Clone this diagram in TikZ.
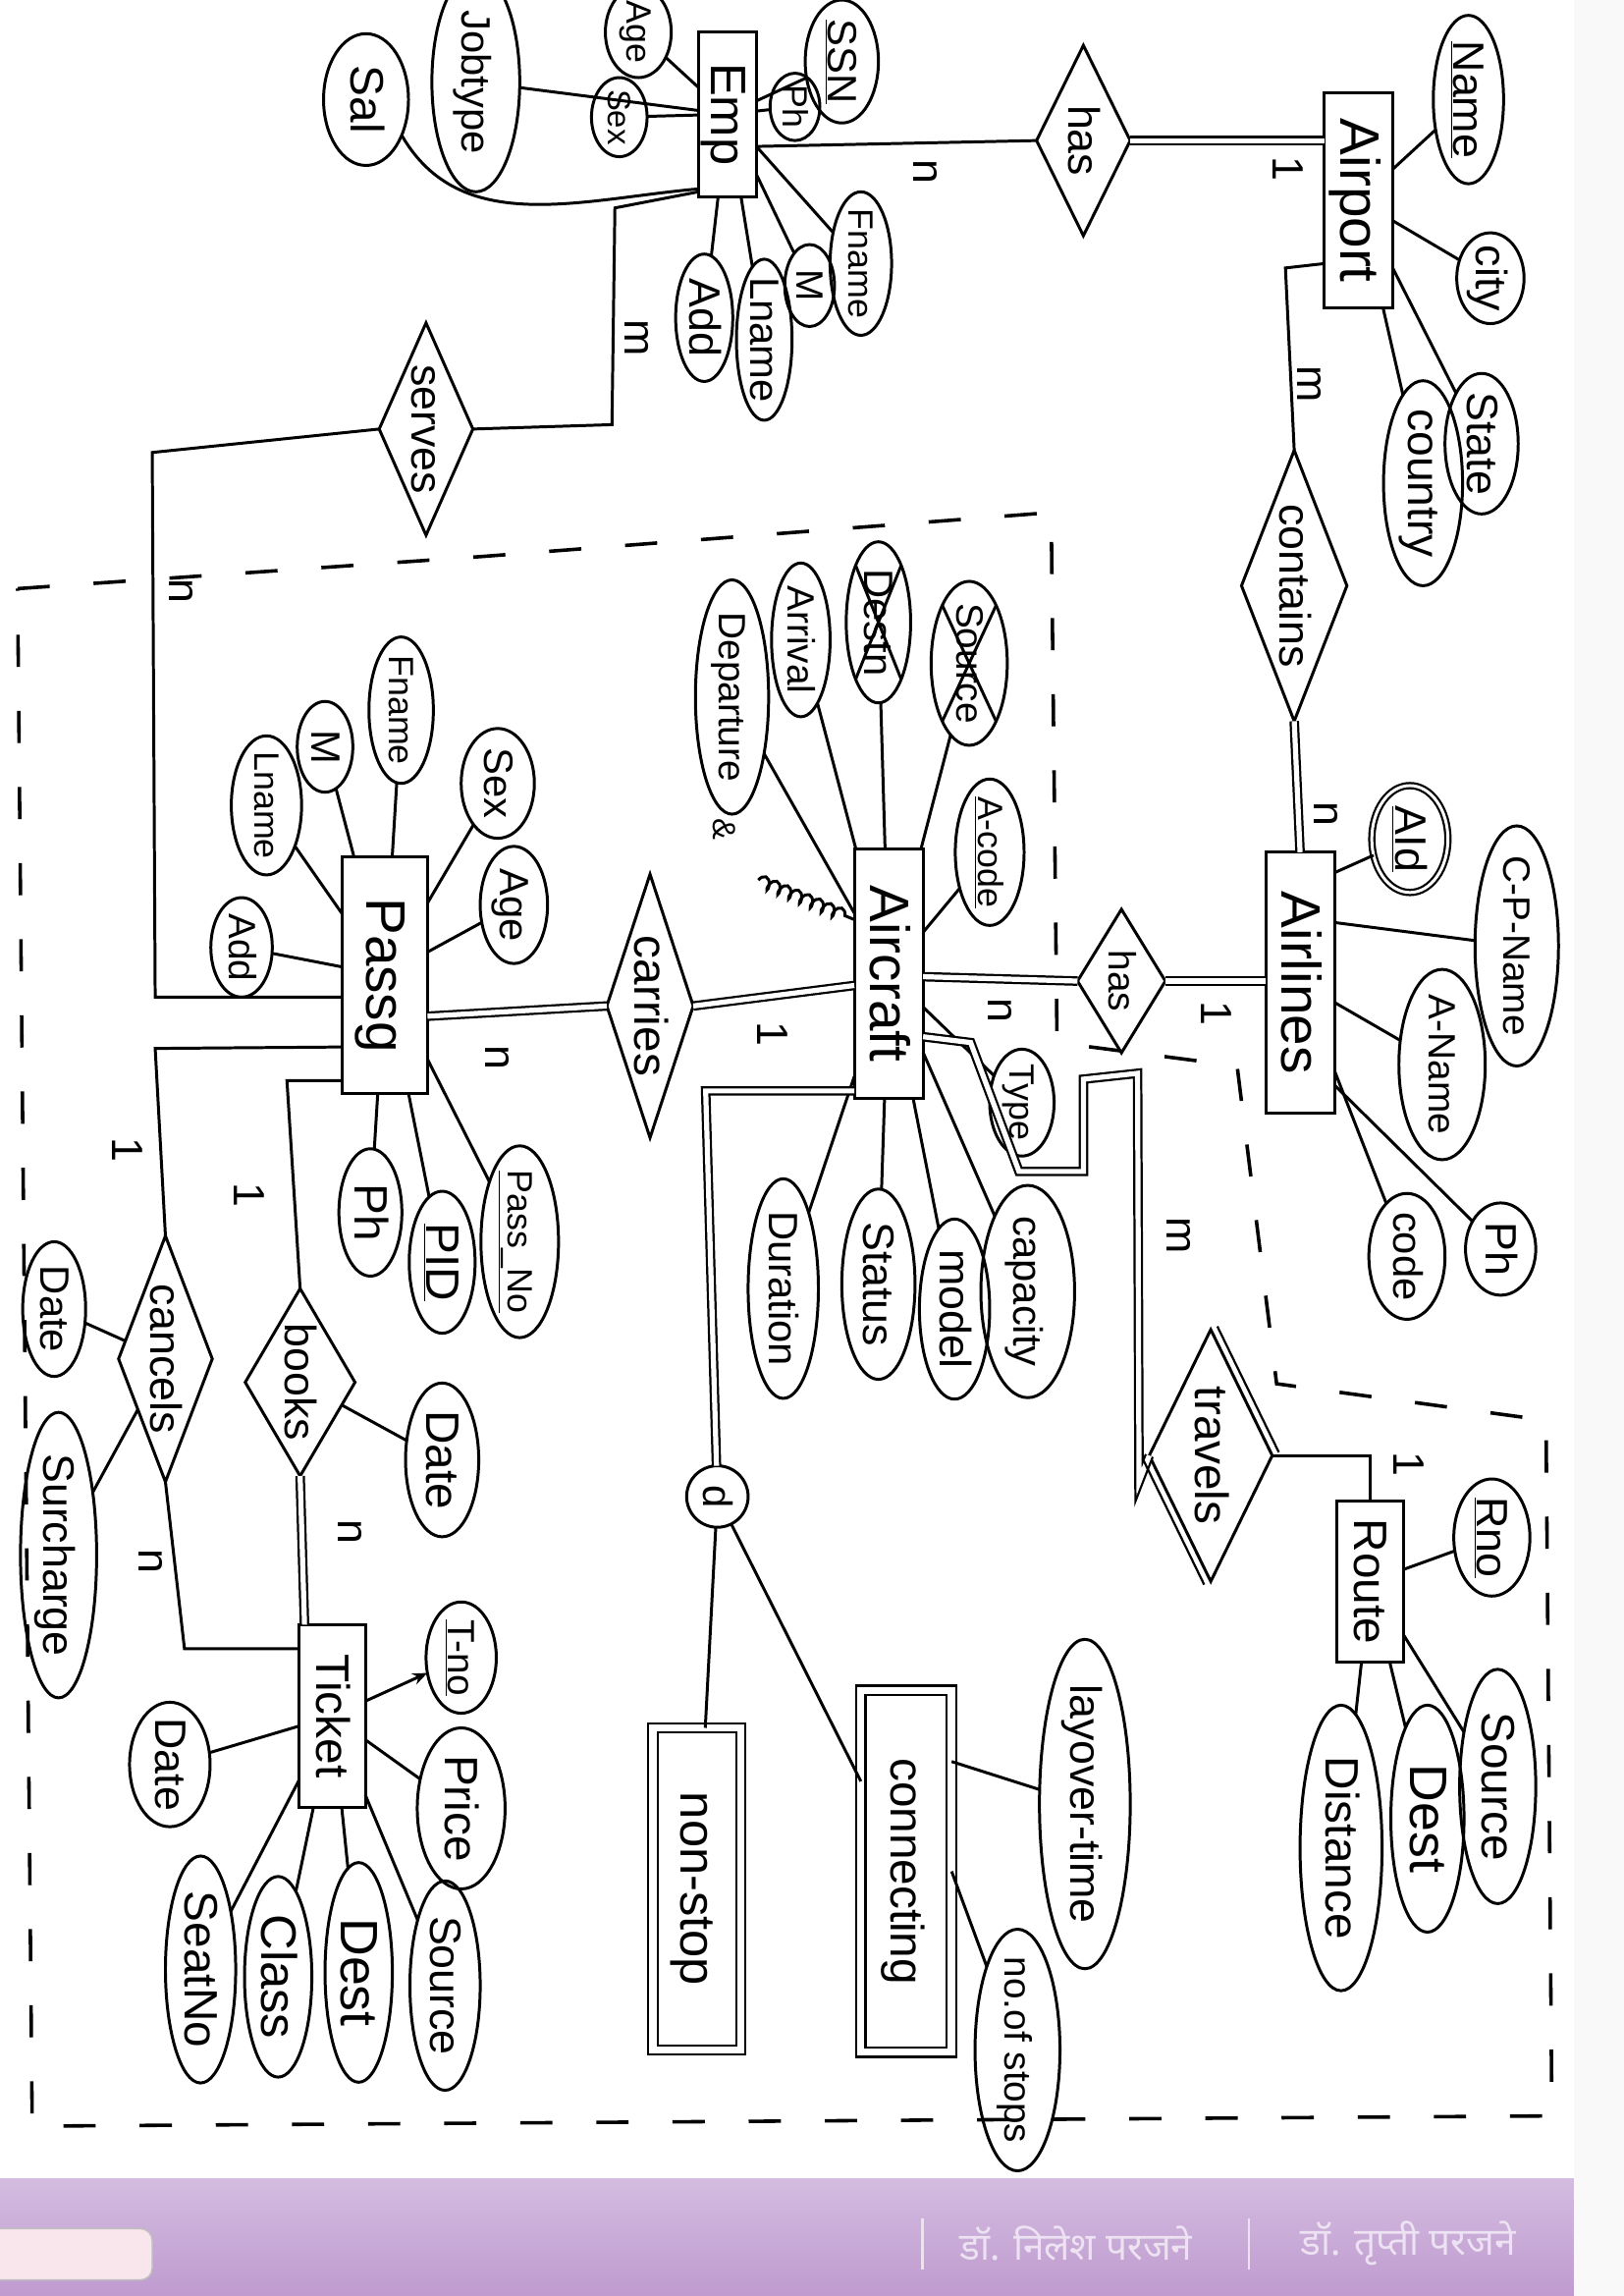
\documentclass[tikz,border=0pt]{standalone}
\usepackage{fontspec}
\setmainfont{Liberation Sans}
\newfontfamily\deva[Script=Devanagari]{Noto Sans}
\usetikzlibrary{shapes.geometric,calc,decorations.pathmorphing,arrows.meta}
\newcommand\hw[1]{\smash{\raisebox{-0.33em}{\makebox[0pt]{#1}}}}
\definecolor{bandtop}{HTML}{D3BCE0}
\definecolor{bandbot}{HTML}{BF9ACF}
\definecolor{foottxt}{HTML}{ECE2F1}
\tikzset{
  shp/.style={draw, line width=2pt, inner sep=0pt, outer sep=0pt, rotate=-90},
  ell/.style n args={3}{shp, ellipse, minimum width=#1pt, minimum height=#2pt, font=\fontsize{#3}{#3}\selectfont},
  ent/.style n args={3}{shp, rectangle, minimum width=#1pt, minimum height=#2pt, font=\fontsize{#3}{#3}\selectfont},
  rel/.style n args={3}{shp, diamond, minimum width=#1pt, minimum height=#2pt, font=\fontsize{#3}{#3}\selectfont},
  wk/.style n args={3}{ent={#1}{#2}{#3}, double, double distance=5pt, line width=1.5pt},
  crd/.style={rotate=-90, inner sep=0pt, font=\fontsize{30}{30}\selectfont},
  conn/.style={line width=2pt},
  dbl/.style={double, double distance=3.5pt, line width=1.5pt},
  bnd/.style={line width=2.4pt, dash pattern=on 22pt off 30pt},
}
\begin{document}
\begin{tikzpicture}[x=1pt, y=-1pt]
\useasboundingbox (0,0) rectangle (1109,1568);
\fill[white] (0,0) rectangle (1109,1568);
\fill[gray!5] (1075,0) rectangle (1109,1568);
\shade[top color=bandtop, bottom color=bandbot] (0,1488) rectangle (1075,1568);
\draw[gray!50, fill=white!90!purple, rounded corners=8pt, line width=1pt] (-10,1522) rectangle (104,1557);
\draw[foottxt, line width=1.5pt] (630,1515) -- (630,1550);
\draw[foottxt, line width=1.5pt] (853,1515) -- (853,1550);
\node[font=\deva\fontsize{26}{26}\selectfont, text=foottxt] (ft1) at (735,1532) {डॉ. निलेश परजने};
\node[font=\deva\fontsize{26}{26}\selectfont, text=foottxt] (ft2) at (962,1532) {डॉ. तृप्ती परजने};

% boundary
\draw[bnd] (12,402) -- (330,380) -- (718,350) -- (722,712) -- (845,728) -- (872,945) -- (1056,970) -- (1060,1445) -- (22,1452) -- cycle;

% ---------- Emp ----------
\node[ell={90}{58}{32}] (sal) at (250,68) {\hw{Sal}};
\node[ell={150}{60}{28}] (job) at (325,56) {\hw{Jobtype}};
\node[ell={62}{45}{24}] (agee) at (436,22) {\hw{Age}};
\node[ell={54}{38}{22}] (sexe) at (423,80) {\hw{Sex}};
\node[ent={113}{40}{34}] (emp) at (497,78) {\hw{Emp}};
\node[ell={84}{50}{28}] (ssn) at (575,42) {\hw{\underline{SSN}}};
\node[ell={46}{34}{24}] (phe) at (543,73) {\hw{Ph}};
\node[ell={98}{42}{24}] (fne) at (588,180) {\hw{Fname}};
\node[ell={56}{34}{26}] (me) at (553,195) {\hw{M}};
\node[ell={110}{38}{28}] (lne) at (522,232) {\hw{Lname}};
\node[ell={87}{39}{30}] (adde) at (481,217) {\hw{Add}};

\draw[conn] (job) -- (emp);
\draw[conn] (agee) -- (emp);
\draw[conn] (sexe) -- (emp);
\draw[conn] (sal.45) to[out=-60,in=185] ($(emp.center)+(-20,51)$);
\draw[conn] (emp) -- (ssn);
\draw[conn] (emp) -- (phe);
\draw[conn] (emp) -- (fne);
\draw[conn] (emp) -- (me);
\draw[conn] (emp) -- (lne);
\draw[conn] (emp) -- (adde);

% ---------- Airport ----------
\node[rel={130}{64}{30}] (has1) at (740,96) {\hw{has}};
\node[ent={147}{47}{38}] (airport) at (928,137) {\hw{Airport}};
\node[ell={115}{48}{30}] (name) at (1003,68) {\hw{\underline{Name}}};
\node[ell={62}{46}{30}] (city) at (1018,190) {\hw{city}};
\node[ell={96}{50}{30}] (state) at (1012,303) {\hw{State}};
\node[ell={140}{54}{31}] (country) at (972,330) {\hw{country}};
\node[rel={185}{72}{30}] (contains) at (884,400) {\hw{contains}};
\node[rel={145}{64}{30}] (serves) at (291,293) {\hw{serves}};

\draw[conn] ($(emp.center)+(20,22)$) -- (has1.south);
\draw[dbl] (has1.north) -- (has1.north -| airport.south);
\draw[conn] (airport) -- (name);
\draw[conn] (airport) -- (city);
\draw[conn] (airport) -- (state);
\draw[conn] (airport) -- (country);
\draw[conn] ($(airport.center)+(-23.5,43)$) -- (878,183) -- (contains.west);
\draw[conn] ($(emp.center)+(-20,53)$) -- (420,142) -- (418,290) -- (serves.north);

% ---------- Passenger ----------
\node[ent={162}{58}{38}] (pass) at (263,666) {\hw{Passg}};
\node[ell={68}{42}{26}] (addp) at (165,647) {\hw{Add}};
\node[ell={95}{48}{24}] (lnp) at (182,550) {\hw{Lname}};
\node[ell={62}{38}{28}] (mp) at (222,510) {\hw{M}};
\node[ell={100}{44}{24}] (fnp) at (274,485) {\hw{Fname}};
\node[ell={75}{50}{28}] (sexp) at (340,535) {\hw{Sex}};
\node[ell={80}{46}{28}] (agep) at (351,618) {\hw{Age}};
\node[ell={131}{53}{24}] (passno) at (355,848) {\hw{\underline{Pass\_No}}};
\node[ell={97}{45}{32}] (pid) at (302,862) {\hw{\underline{PID}}};
\node[ell={87}{43}{32}] (php) at (253,828) {\hw{Ph}};
\node[rel={180}{59}{32}] (carries) at (444,687) {\hw{carries}};

\draw[conn] (serves.south) -- (104,309) -- (106,681) -- ($(pass.center)+(-29,15)$);
\foreach \a in {addp,lnp,mp,fnp,sexp,agep,passno,pid,php} \draw[conn] (pass) -- (\a);
\draw[dbl] ($(pass.center)+(29,28)$) -- (carries.south);

% ---------- Aircraft ----------
\node[ent={170}{47}{38}] (aircraft) at (607,665) {\hw{Aircraft}};
\node[ell={160}{50}{26}] (dep) at (500,476) {\hw{Departure}};
\node[ell={105}{40}{26}] (arr) at (547,437) {\hw{Arrival}};
\node[ell={110}{44}{28}] (destn) at (600,425) {\hw{Destn}};
\node[ell={112}{52}{26}] (srca) at (662,453) {\hw{Source}};
\node[ell={100}{47}{24}] (acode) at (676,582) {\hw{\underline{A-code}}};
\node[ell={73}{44}{24}] (type) at (698,753) {\hw{Type}};
\node[ell={145}{64}{28}] (cap) at (702,882) {\hw{capacity}};
\node[ell={123}{48}{30}] (model) at (652,894) {\hw{model}};
\node[ell={130}{50}{30}] (status) at (600,877) {\hw{Status}};
\node[ell={150}{48}{28}] (dur) at (535,880) {\hw{Duration}};
\node[crd, font=\fontsize{22}{22}\selectfont] (amp) at (495,566) {\&};
\coordinate (sqa) at (518,601);

\draw[dbl] (carries.north) -- ($(aircraft.center)+(-23.5,8)$);
\foreach \a in {dep,arr,destn,srca,acode,type,cap,model,status,dur} \draw[conn] (aircraft) -- (\a);
\draw[conn] (destn.north west) -- (destn.south east);
\draw[conn] (destn.north east) -- (destn.south west);
\draw[conn] (srca.north west) -- (srca.south east);
\draw[conn] (srca.north east) -- (srca.south west);
\draw[conn, decorate, decoration={coil, aspect=0.5, segment length=8pt, amplitude=4pt}] (sqa) -- ($(aircraft.center)+(-23.5,-37)$);

% ---------- Airlines ----------
\node[rel={98}{60}{26}] (has2) at (766,670) {\hw{has}};
\node[ent={178}{47}{38}] (airlines) at (888,671) {\hw{Airlines}};
\node[ell={73}{52}{30}, double, double distance=2pt, line width=1.5pt] (aid) at (963,573) {\hw{\underline{AId}}};
\node[ell={164}{57}{26}] (cpn) at (1036,646) {\hw{C-P-Name}};
\node[ell={130}{59}{26}] (anm) at (985,727) {\hw{A-Name}};
\node[ell={86}{52}{28}] (code) at (961,858) {\hw{code}};
\node[ell={63}{48}{30}] (pha) at (1025,853) {\hw{Ph}};

\draw[dbl] (contains.east) -- (airlines.west);
\draw[dbl] ($(aircraft.center)+(23.5,2)$) -- (has2.south);
\draw[dbl] (has2.north) -- (has2.north -| airlines.south);
\draw[conn] ($(airlines.center)+(23.5,-75)$) -- (aid);
\draw[conn] ($(airlines.center)+(23.5,-41)$) -- (cpn);
\draw[conn] (airlines) -- (anm);
\draw[conn] (airlines) -- (code);
\draw[conn] ($(airlines.center)+(23.5,70)$) -- (pha);

% ---------- travels / Route ----------
\node[rel={172}{84}{32}] (travels) at (827,994) {\hw{travels}};
\node[ent={110}{46}{32}] (route) at (936,1080) {\hw{Route}};
\node[ell={80}{52}{30}] (rno) at (1019,1050) {\hw{\underline{Rno}}};
\node[ell={160}{52}{32}] (srcr) at (1023,1220) {\hw{Source}};
\node[ell={155}{50}{36}] (destr) at (975,1242) {\hw{Dest}};
\node[ell={195}{56}{32}] (dist) at (916,1262) {\hw{Distance}};

\draw[dbl] ($(aircraft.center)+(23.5,43)$) -- (663,712) -- (696,800) -- (740,800) -- (740,737) -- (777,733) -- (778,1012) -- (travels.south);
\draw[line width=1.5pt] ($(travels.west)+(4.5,-2.2)$) -- ($(travels.north)+(4.5,-2.2)$);
\draw[line width=1.5pt] ($(travels.south)+(-4.5,2.2)$) -- ($(travels.east)+(-4.5,2.2)$);
\draw[conn] (travels.north) -- (936,994) -- (route.west);
\foreach \a in {rno,srcr,destr,dist} \draw[conn] (route) -- (\a);

% ---------- specialisation ----------
\node[shp, circle, minimum size=42pt, font=\fontsize{28}{28}\selectfont] (d) at (490,1022) {\hw{d}};
\node[wk={220}{60}{34}] (nonstop) at (476,1290) {\hw{non-stop}};
\node[wk={247}{62}{32}] (cnct) at (619,1278) {\hw{connecting}};
\node[ell={225}{62}{30}] (layover) at (741,1232) {\hw{layover-time}};
\node[ell={165}{58}{26}] (nstops) at (695,1400) {\hw{no.of stops}};

\draw[dbl] ($(aircraft.center)+(-23.5,80)$) -- (482,745) -- (d);
\draw[conn] (d) -- (nonstop);
\draw[conn] (d) -- (cnct);
\draw[conn] ($(cnct.center)+(31,-75)$) -- (layover);
\draw[conn] ($(cnct.center)+(31,0)$) -- (nstops);

% ---------- cancels / books / Ticket ----------
\node[rel={168}{64}{30}] (cancels) at (113,928) {\hw{cancels}};
\node[ell={92}{43}{28}] (datec) at (37,894) {\hw{Date}};
\node[ell={195}{52}{30}] (surch) at (40,1062) {\hw{Surcharge}};
\node[rel={128}{75}{30}] (books) at (205,944) {\hw{books}};
\node[ell={105}{50}{32}] (dateb) at (302,997) {\hw{Date}};
\node[ent={125}{45}{32}] (ticket) at (227,1172) {\hw{Ticket}};
\node[ell={76}{48}{26}] (tno) at (315,1132) {\hw{\underline{T-no}}};
\node[ell={110}{60}{32}] (price) at (315,1235) {\hw{Price}};
\node[ell={85}{55}{30}] (datet) at (116,1205) {\hw{Date}};
\node[ell={155}{48}{32}] (seatno) at (137,1345) {\hw{SeatNo}};
\node[ell={137}{46}{34}] (class) at (190,1350) {\hw{Class}};
\node[ell={150}{46}{36}] (destt) at (245,1347) {\hw{Dest}};
\node[ell={143}{48}{30}] (srct) at (304,1356) {\hw{Source}};

\draw[conn] ($(pass.center)+(-29,49)$) -- (106,716) -- (cancels.west);
\draw[conn] (cancels.east) -- (126,1126) -- ($(ticket.center)+(-22.5,-46)$);
\draw[conn] (cancels) -- (datec);
\draw[conn] (cancels) -- (surch);
\draw[conn] ($(pass.center)+(-29,72)$) -- (196,738) -- (books.west);
\draw[dbl] (books.east) -- ($(ticket.center)+(-19,-62.5)$);
\draw[conn] (books) -- (dateb);
\draw[conn, -{Stealth[length=10pt,width=8pt]}] (ticket) -- (tno);
\foreach \a in {price,datet,seatno,class,destt,srct} \draw[conn] (ticket) -- (\a);

% ---------- cardinalities ----------
\node[crd] (c1) at (632,117) {n};
\node[crd] (c2) at (880,115) {1};
\node[crd] (c3) at (894,262) {m};
\node[crd] (c4) at (906,556) {n};
\node[crd] (c5) at (435,231) {m};
\node[crd] (c6) at (124,404) {n};
\node[crd] (c7) at (340,722) {n};
\node[crd] (c8) at (528,706) {1};
\node[crd] (c9) at (683,690) {n};
\node[crd] (c10) at (831,692) {1};
\node[crd] (c11) at (805,844) {m};
\node[crd] (c12) at (87,785) {1};
\node[crd] (c13) at (170,816) {1};
\node[crd] (c14) at (103,1066) {n};
\node[crd] (c15) at (239,1046) {n};
\node[crd] (c16) at (962,1000) {1};
\end{tikzpicture}
\end{document}
